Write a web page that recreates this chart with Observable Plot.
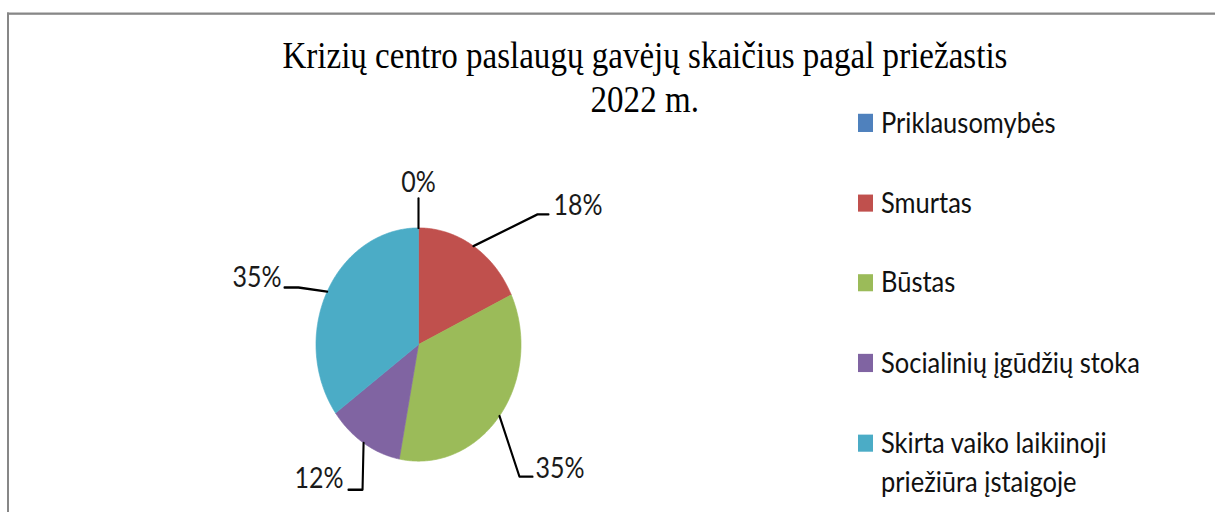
<!DOCTYPE html>
<html>
<head>
<meta charset="utf-8">
<script src="https://cdn.jsdelivr.net/npm/d3@7"></script>
<script src="https://cdn.jsdelivr.net/npm/@observablehq/plot@0.6"></script>
<style>
  html, body { margin: 0; padding: 0; background: #fff; overflow: hidden; }
  #page { position: absolute; left: 0; top: 0; width: 1215px; height: 450px;
          transform: scaleY(1.13778); transform-origin: 0 0; }
  #frame { position: absolute; left: 7px; top: 10.5px; right: -20px; bottom: -20px;
           border-left: 2px solid #878787; border-top: 2px solid #878787; }
  #title { position: absolute; left: 0; width: 1290px; top: 29.5px; text-align: center;
           font-family: "Liberation Serif", "DejaVu Serif", serif; font-size: 34px;
           line-height: 38.5px; color: #000; white-space: nowrap; }
  #title span { display: inline-block; transform-origin: 50% 50%; }
  #chart { position: absolute; left: 0; top: 0; }
  .lg-row { position: absolute; left: 881px; font-family: Lato, sans-serif; font-size: 25.5px;
            line-height: 33.7px; color: #111; white-space: nowrap; }
  .lg-sw { position: absolute; left: 857.5px; width: 15.5px; height: 15.5px; }
</style>
</head>
<body>
<div id="page">
  <div id="frame"></div>
  <div id="title"><span id="t1">Krizių centro paslaugų gavėjų skaičius pagal priežastis</span><br><span id="t2">2022 m.</span></div>
  <div id="chart"></div>
  <div id="legend"></div>
</div>
<script>
// ---- data ----
const categories = ["Priklausomybės", "Smurtas", "Būstas", "Socialinių įgūdžių stoka", "Skirta vaiko laikiinoji priežiūra įstaigoje"];
const legendLines = [["Priklausomybės"], ["Smurtas"], ["Būstas"], ["Socialinių įgūdžių stoka"], ["Skirta vaiko laikiinoji", "priežiūra įstaigoje"]];
const shares = [0, 18, 35, 12, 35];
const colors = ["#4F81BD", "#C0504D", "#9BBB59", "#8064A2", "#4BACC6"];

// label leader layout (pie unit coordinates), per category
const labelLayout = [
  {elbow: null,            end: [0, 1.253],       text: [0, 1.39],       anchor: "middle"},
  {elbow: [1.161, 1.116],  end: [1.268, 1.116],   text: [1.317, 1.193],  anchor: "start"},
  {elbow: [0.985, -1.133], end: [1.112, -1.133],  text: [1.141, -1.064], anchor: "start"},
  {elbow: [-0.546, -1.245],end: [-0.683, -1.245], text: [-0.732, -1.150],anchor: "end"},
  {elbow: [-1.171, 0.489], end: [-1.307, 0.489],  text: [-1.337, 0.575], anchor: "end"}
];

// ---- build geometry from data ----
const rows = categories.map((c, i) => ({cat: c, value: shares[i]}));
const arcs = d3.pie().sort(null).value(d => d.value)(rows);

const slicePts = [];
arcs.forEach(a => {
  if (a.value <= 0) return;
  const n = Math.max(2, Math.ceil((a.endAngle - a.startAngle) / 0.01));
  slicePts.push({cat: a.data.cat, x: 0, y: 0});
  for (let k = 0; k <= n; k++) {
    const t = a.startAngle + (a.endAngle - a.startAngle) * k / n;
    slicePts.push({cat: a.data.cat, x: Math.sin(t), y: Math.cos(t)});
  }
  slicePts.push({cat: a.data.cat, x: 0, y: 0});
});

const leaderPts = [];
const labels = [];
arcs.forEach((a, i) => {
  const mid = (a.startAngle + a.endAngle) / 2;
  const L = labelLayout[i];
  leaderPts.push({id: i, x: Math.sin(mid), y: Math.cos(mid)});
  if (L.elbow) leaderPts.push({id: i, x: L.elbow[0], y: L.elbow[1]});
  leaderPts.push({id: i, x: L.end[0], y: L.end[1]});
  labels.push({x: L.text[0], y: L.text[1], anchor: L.anchor, label: Math.round(a.value) + "%"});
});

const textMark = anchor => Plot.text(labels.filter(d => d.anchor === anchor), {
  x: "x", y: "y", text: "label", textAnchor: anchor, fill: "#1a1a1a",
  fontSize: 25, fontFamily: "Lato"
});

const chart = Plot.plot({
  width: 1215, height: 450,
  marginTop: 0, marginRight: 0, marginBottom: 0, marginLeft: 0,
  style: {background: "transparent", overflow: "visible", fontFamily: "Lato"},
  x: {domain: [-1, 1], range: [315.5, 520.5], axis: null},
  y: {domain: [-1, 1], range: [404.8, 199.8], axis: null},
  color: {domain: categories, range: colors},
  marks: [
    Plot.line(slicePts, {x: "x", y: "y", z: "cat", fill: "cat", stroke: "cat", strokeWidth: 0.6, curve: "linear"}),
    Plot.line(leaderPts, {x: "x", y: "y", z: "id", stroke: "#000", strokeWidth: 2.1, curve: "linear"}),
    textMark("middle"), textMark("start"), textMark("end")
  ]
});
document.getElementById("chart").appendChild(chart);

// ---- legend ----
const legend = document.getElementById("legend");
legendLines.forEach((lines, i) => {
  const sq = document.createElement("div");
  sq.className = "lg-sw";
  sq.style.background = colors[i];
  sq.style.top = (108.0 + 70.35 * i - 7.75) + "px";
  legend.appendChild(sq);
  const row = document.createElement("div");
  row.className = "lg-row";
  row.style.top = (90.5 + 70.35 * i) + "px";
  row.innerHTML = lines.join("<br>");
  legend.appendChild(row);
});

// ---- title fit ----
const t1 = document.getElementById("t1"), t2 = document.getElementById("t2");
const w = t1.getBoundingClientRect().width;
const k = 725 / w;
t1.style.transform = `scaleX(${k})`;
t2.style.transform = `scaleX(${k})`;
</script>
</body>
</html>
